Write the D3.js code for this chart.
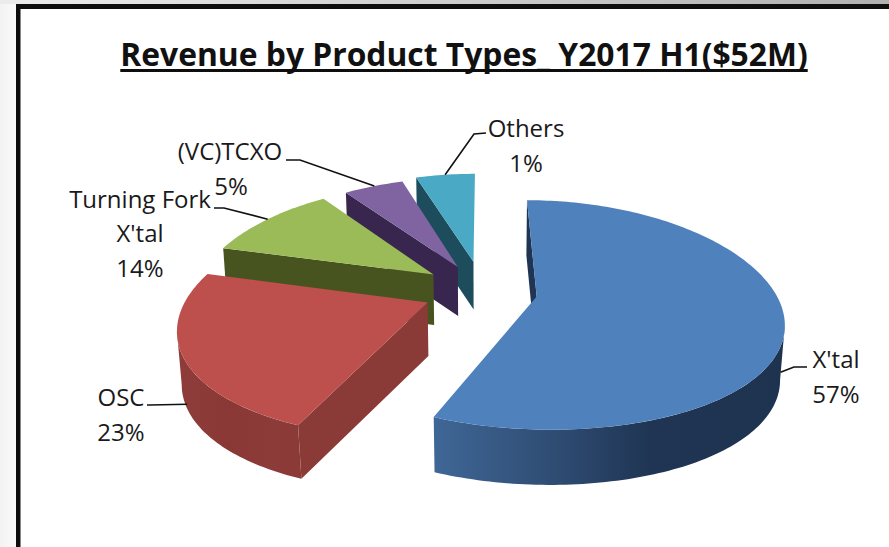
<!DOCTYPE html>
<html>
<head>
<meta charset="utf-8">
<script src="https://cdn.jsdelivr.net/npm/d3@7"></script>
<style>
html,body{margin:0;padding:0;background:#fff;overflow:hidden}
svg{display:block}
text{font-family:"Open Sans",sans-serif;fill:#1a1a1a}
</style>
</head>
<body>
<div id="chart"></div>
<script>
// ---- data ----
const categories = ["X'tal", "OSC", "Turning Fork X'tal", "(VC)TCXO", "Others"];
const drawnShares = [57, 23, 11, 5, 5];          // slice sizes as drawn
const labelPercents = ["57%", "23%", "14%", "5%", "1%"]; // percentages as printed
const titleText = "Revenue by Product Types_ Y2017 H1($52M)";

// ---- layout and style ----
const W = 889, H = 547;
const topColors  = ["#4f81bd", "#bd504d", "#9bbb59", "#8064a2", "#4aaac6"];
const sideColors = ["#1f3553", "#8a3a37", "#45521f", "#3a2850", "#1f4f5f"];
const radialColors = ["#1f3553", "#8a3a37", "#47541f", "#38264e", "#1d4d5d"];
const explode = [0.245, 0.235, 0.25, 0.235, 0.26];
const labelLayout = [
  {x: 836, lines: [[368, "name"], [403, "pct"]], from: [807, 367], knee: [794, 367], at: 103, z: 0.9},
  {x: 121, lines: [[406, "name"], [441, "pct"]], from: [147, 405], knee: [150, 405], at: 244, z: 0.9},
  {x: 140, lines: [[208, "Turning Fork"], [242, "X'tal"], [277, "pct"]], from: [214, 208], knee: [224, 208], at: 305, z: 0},
  {x: 230, lines: [[160, "name"], [195, "pct"]], from: [286, 160], knee: [300, 160], at: 333.5, z: 0},
  {x: 526, lines: [[137, "name"], [172, "pct"]], from: [486, 133], knee: [474, 134], at: 351, z: 0}
];

const svg = d3.select("#chart").append("svg").attr("width", W).attr("height", H);
const defs = svg.append("defs");

// page backdrop and the black slide frame
const bgLeft = defs.append("linearGradient").attr("id", "bgLeft").attr("x1", 0).attr("x2", 1).attr("y1", 0).attr("y2", 0);
bgLeft.append("stop").attr("offset", 0).attr("stop-color", "#f2f2f2");
bgLeft.append("stop").attr("offset", 1).attr("stop-color", "#fbfbfb");
const bgTop = defs.append("linearGradient").attr("id", "bgTop").attr("x1", 0).attr("x2", 1).attr("y1", 0).attr("y2", 0);
bgTop.append("stop").attr("offset", 0).attr("stop-color", "#ececec");
bgTop.append("stop").attr("offset", 1).attr("stop-color", "#b0b0b0");
svg.append("rect").attr("width", 17).attr("height", H).attr("fill", "url(#bgLeft)");
svg.append("rect").attr("width", W).attr("height", 4).attr("fill", "url(#bgTop)");
svg.append("rect").attr("x", 16).attr("y", 4).attr("width", W).attr("height", H).attr("fill", "#0e0e0e");
svg.append("rect").attr("x", 20.5).attr("y", 9).attr("width", W).attr("height", H).attr("fill", "#fff");

// title
const title = svg.append("text").attr("x", 464).attr("y", 66).attr("text-anchor", "middle")
  .attr("font-size", 31.8).attr("font-weight", 700).style("fill", "#111").text(titleText);
const tb = title.node().getBBox();
svg.append("line").attr("x1", tb.x).attr("x2", tb.x + tb.width).attr("y1", 70.5).attr("y2", 70.5)
  .attr("stroke", "#0e0e0e").attr("stroke-width", 3);

// perspective projection of the pie plane
const ox = 479, oy = 291, R = 238, A = 110, Py = 0.16, Px = 0.2, Q = 0.015, D0 = 54;
function project(u, v, z, depth) {
  const sx = 1 / (1 + Px * v + Q * z), sy = 1 / (1 + Py * v);
  return [ox + R * u * sx, oy - A * v * sy + depth * z];
}
const pie = d3.pie().sort(null)(drawnShares);
const line = d3.line();

const slices = pie.map((d, i) => {
  const mid = (d.startAngle + d.endAngle) / 2;
  const u0 = explode[i] * Math.sin(mid), v0 = explode[i] * Math.cos(mid);
  const depth = D0 * (1 - 0.45 * v0) - (i === 1 ? 3 : 0);
  const lean = Math.max(v0, 0);               // rear slices sit slightly up and to the right
  const shift = p => [p[0] + 14 * lean, p[1] - 8 * lean];
  const rim = (a, z) => shift(project(u0 + Math.sin(a), v0 + Math.cos(a), z, depth));
  const apex = z => shift(project(u0, v0, z, depth));
  return {i, d, rim, apex, depth};
});

function arcAngles(a0, a1) {
  const n = Math.max(2, Math.ceil((a1 - a0) / 0.02));
  return d3.range(n + 1).map(k => a0 + (a1 - a0) * k / n);
}

// side gradients
[["#3f6796", "#2f4c73", "#1f3553", "#1e3350"], ["#8e3c39", "#8a3835", "#8d3b38", "#8a3a37"]].forEach((stops, i) => {
  const g = defs.append("linearGradient").attr("id", "side" + i).attr("gradientUnits", "userSpaceOnUse")
    .attr("x1", i === 0 ? 433 : 190).attr("x2", i === 0 ? 784 : 305).attr("y1", 0).attr("y2", 0);
  const offs = i === 0 ? [0, 0.35, 0.62, 1] : [0, 0.35, 0.7, 1];
  stops.forEach((c, k) => g.append("stop").attr("offset", offs[k]).attr("stop-color", c));
});

// paint back-to-front
[4, 3, 2, 1, 0].forEach(i => {
  const s = slices[i], a0 = s.d.startAngle, a1 = s.d.endAngle;
  const g = svg.append("g").attr("class", "slice");
  // radial wall on the starting edge
  g.append("path")
    .attr("d", line([s.apex(0), s.rim(a0, 0), s.rim(a0, 1), s.apex(1)]) + "Z")
    .attr("fill", radialColors[i]);
  // outer wall between the two silhouette tangents of the rim
  const rightTangent = d3.greatest(arcAngles(Math.PI * 0.3, Math.PI * 0.8), a => s.rim(a, 0)[0]);
  const leftTangent = d3.least(arcAngles(Math.PI * 1.2, Math.PI * 1.7), a => s.rim(a, 0)[0]);
  const lo = Math.max(a0, rightTangent), hi = Math.min(a1, leftTangent);
  if (hi > lo) {
    const ang = arcAngles(lo, hi);
    const pts = ang.map(a => s.rim(a, 0)).concat(ang.slice().reverse().map(a => s.rim(a, 1)));
    g.append("path").attr("d", line(pts) + "Z")
      .attr("fill", i < 2 ? `url(#side${i})` : sideColors[i]);
  }
  // top face
  const face = [s.apex(0)].concat(arcAngles(a0, a1).map(a => s.rim(a, 0)));
  g.append("path").attr("d", line(face) + "Z").attr("fill", topColors[i]);
});

// labels and leaders
labelLayout.forEach((l, i) => {
  const s = slices[i];
  const tip = s.rim(l.at * Math.PI / 180, l.z);
  svg.append("path").attr("d", line([l.from, l.knee, tip]))
    .attr("fill", "none").attr("stroke", "#111").attr("stroke-width", 1.6);
  l.lines.forEach(([y, kind]) => {
    const txt = kind === "name" ? categories[i] : kind === "pct" ? labelPercents[i] : kind;
    const bx = (i === 3 && kind === "pct") ? 231 : l.x;
    svg.append("text").attr("x", bx).attr("y", y).attr("text-anchor", "middle")
      .attr("font-size", 24).text(txt);
  });
});
</script>
</body>
</html>
